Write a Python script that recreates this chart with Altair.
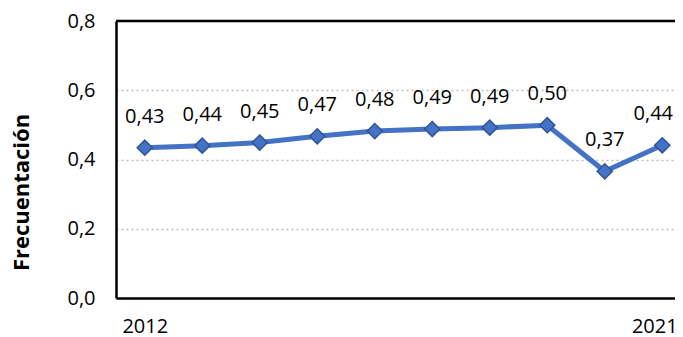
import altair as alt
import pandas as pd

years = [2012, 2013, 2014, 2015, 2016, 2017, 2018, 2019, 2020, 2021]
values = [0.434, 0.440, 0.449, 0.467, 0.482, 0.488, 0.492, 0.499, 0.366, 0.441]
y_ticks = [0.0, 0.2, 0.4, 0.6, 0.8]
x_ticks = [2012, 2021]

df = pd.DataFrame({"year": years, "value": values})

FONT = "Open Sans"
W, H = 559, 277
LAST = years[-1]

x_enc = alt.X("year:Q",
              scale=alt.Scale(domain=[2011.5, 2011.5 + W / 57.5], nice=False, zero=False),
              axis=alt.Axis(values=x_ticks, format="d", title=None, ticks=False,
                            domainColor="black", domainWidth=2.5, grid=False,
                            labelFont=FONT, labelFontSize=20, labelColor="black",
                            labelPadding=18, labelFlush=False,
                            labelOffset={"expr": f"datum.value == {LAST} ? -8 : 0"}))
y_enc = alt.Y("value:Q",
              scale=alt.Scale(domain=[0, 0.8], nice=False),
              axis=alt.Axis(values=y_ticks, title="Frecuentación", ticks=False,
                            labelExpr="replace(format(datum.value, '.1f'), '.', ',')",
                            domainColor="black", domainWidth=2.5,
                            grid=True, gridColor="#BFBFBF", gridDash=[2, 3], gridWidth=1.5,
                            labelFont=FONT, labelFontSize=20, labelColor="black",
                            labelPadding=21,
                            titleFont=FONT, titleFontSize=22, titleFontWeight="bold",
                            titleColor="black", titleAngle=-90, titleX=-95, titleY=171,
                            titleAlign="center", titleBaseline="middle"))

base = alt.Chart(df)

line = base.mark_line(color="#4472C4", strokeWidth=5).encode(x=x_enc, y=y_enc)
points = base.mark_point(shape="diamond", filled=True, size=230, color="#4472C4",
                         stroke="#2F5597", strokeWidth=1.5, opacity=1).encode(x="year:Q", y="value:Q")
lab_base = base.transform_calculate(
    lab="replace(format(datum.value, '.2f'), '.', ',')"
)
labels = lab_base.transform_filter(f"datum.year != {LAST}").mark_text(
    font=FONT, fontSize=20, color="black", baseline="alphabetic", dy=-25).encode(
    x="year:Q", y="value:Q", text="lab:N")
last_label = lab_base.transform_filter(f"datum.year == {LAST}").mark_text(
    font=FONT, fontSize=20, color="black", baseline="alphabetic", dy=-25, dx=-9).encode(
    x="year:Q", y="value:Q", text="lab:N")
top = alt.Chart(pd.DataFrame({"v": [0.8]})).mark_rule(color="black", strokeWidth=2.5).encode(
    y="v:Q")

chart = alt.layer(line, points, labels, last_label, top).properties(
    width=W, height=H,
    autosize=alt.AutoSizeParams(type="none"),
    padding={"left": 108, "top": 13, "right": 0, "bottom": 40},
).configure_view(stroke=None).configure(background="white")

chart.save("out.html", embed_options={"renderer": "svg", "actions": False})
